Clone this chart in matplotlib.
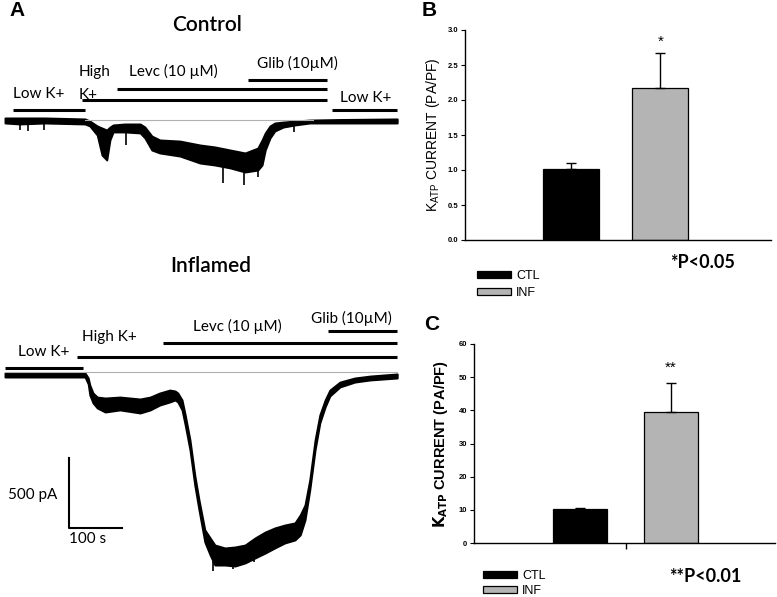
import numpy as np
import matplotlib
matplotlib.use('Agg')
import matplotlib.pyplot as plt

W, H = 777, 597

# ---------------- trace data (time in s, current in pA) ----------------
ctl_t = [0, 28, 75, 151, 160, 174, 183, 192, 198, 204, 226, 255, 264, 277, 292,
         330, 368, 396, 425, 453, 477, 485, 491, 500, 509, 525, 547, 575, 632, 740]
ctl_top = [11, 11, 11, 4, -11, -46, -61, -75, -54, -39, -32, -32, -54, -118, -146,
           -154, -182, -196, -218, -239, -204, -146, -96, -46, -25, -18, -11, -4, 0, 4]
ctl_bot = [-25, -32, -25, -32, -46, -111, -254, -289, -146, -89, -89, -96, -132, -218, -239,
           -261, -311, -325, -346, -375, -361, -325, -218, -132, -82, -54, -39, -25, -25, -25]
ctl_spike_t = [28, 43, 74, 228, 411, 451, 477, 545]
ctl_spike_pa = [-75, -82, -75, -182, -453, -468, -411, -89]

inf_t = [0, 151, 157, 160, 166, 174, 189, 217, 255, 274, 292, 311, 321, 326, 334, 340,
         349, 358, 366, 377, 387, 396, 415, 434, 453, 472, 491, 509, 528, 547, 557, 566,
         575, 585, 594, 604, 613, 632, 660, 689, 740]
inf_top = [-9, -9, -45, -95, -152, -181, -188, -181, -195, -181, -152, -131, -138, -152, -202, -309,
           -488, -738, -916, -1130, -1187, -1238, -1259, -1252, -1238, -1187, -1145, -1116, -1095, -1080, -1023, -952,
           -773, -488, -309, -202, -131, -74, -45, -31, -16]
inf_bot = [-38, -38, -88, -166, -223, -259, -288, -273, -295, -273, -238, -216, -202, -216, -273, -381,
           -559, -809, -987, -1216, -1309, -1381, -1381, -1388, -1366, -1330, -1295, -1259, -1223, -1202, -1166, -1059,
           -845, -559, -366, -252, -173, -109, -74, -59, -45]
inf_spike_t = [392, 430, 470]
inf_spike_pa = [-1420, -1410, -1360]

# solution application periods (s)
ctl_solutions = [('Low K+', 15, 151), ('High K+', 145, 608), ('Levc', 211, 608),
                 ('Glib', 458, 608), ('Low K+', 617, 740)]
inf_solutions = [('Low K+', 0, 147), ('High K+', 136, 740), ('Levc', 298, 740), ('Glib', 609, 740)]

scale_pa = 500
scale_s = 100

# ---------------- bar data ----------------
groups = ['CTL', 'INF']
b_means = [1.01, 2.17]
b_errs = [0.09, 0.50]
c_means = [10.2, 39.4]
c_errs = [0.3, 8.9]
bar_colors = ['black', '#b4b4b4']

PX_PER_S = 0.53
PX_PER_PA = 0.14
T0_PX = 5


def fig_rect(x0, y0, x1, y1):
    return [x0 / W, 1 - y1 / H, (x1 - x0) / W, (y1 - y0) / H]


def ftext(x, y, s, **kw):
    kw.setdefault('va', 'center')
    fig.text(x / W, 1 - y / H, s, **kw)


fig = plt.figure(figsize=(W / 100, H / 100), dpi=100)
trace_font = ['Lato', 'DejaVu Sans']
bar_font = 'Liberation Sans'


def trace_axes(y0, y1, base_px):
    ax = fig.add_axes(fig_rect(0, y0, 400, y1))
    ax.set_xlim(-T0_PX / PX_PER_S, (400 - T0_PX) / PX_PER_S)
    ax.set_ylim(-(y1 - base_px) / PX_PER_PA, (base_px - y0) / PX_PER_PA)
    ax.axis('off')
    return ax


def draw_trace(ax, t, top, bot, st, spa):
    ax.fill_between(t, top, bot, color='black', lw=1.4, edgecolor='black')
    base = np.interp(st, t, bot)
    ax.vlines(st, base, spa, color='black', lw=1.2)


# control trace
ax_c = trace_axes(0, 250, 119.5)
ax_c.plot([151, 581], [0, 0], color='#b0b0b0', lw=0.8)
draw_trace(ax_c, ctl_t, ctl_top, ctl_bot, ctl_spike_t, ctl_spike_pa)
ctl_levels = [68, 139, 218, 282, 68]
for (name, t0, t1), lev in zip(ctl_solutions, ctl_levels):
    ax_c.plot([t0, t1], [lev, lev], color='black', lw=2.2, solid_capstyle='butt')

# inflamed trace
ax_i = trace_axes(250, 597, 371.7)
ax_i.plot([0, 740], [0, 0], color='#b0b0b0', lw=0.8)
draw_trace(ax_i, inf_t, inf_top, inf_bot, inf_spike_t, inf_spike_pa)
inf_levels = [30, 105, 205, 291]
for (name, t0, t1), lev in zip(inf_solutions, inf_levels):
    ax_i.plot([t0, t1], [lev, lev], color='black', lw=2.2, solid_capstyle='butt')

# scale bar
sb_t, sb_pa = 120.8, -1116
ax_i.plot([sb_t, sb_t, sb_t + scale_s], [sb_pa + scale_pa, sb_pa, sb_pa], color='black', lw=1.5)

tk = dict(family=trace_font, fontsize=11)
ftext(9, 10, 'A', fontsize=15, fontweight='bold', family=bar_font)
ftext(207, 25, 'Control', ha='center', family=trace_font, fontsize=15, fontweight='semibold')
ftext(211, 266, 'Inflamed', ha='center', family=trace_font, fontsize=15, fontweight='semibold')
ftext(13, 94, 'Low K+', **tk)
ftext(79, 72, 'High', **tk)
ftext(79, 95, 'K+', **tk)
ftext(129, 71, 'Levc (10 µM)', **tk)
ftext(257, 63, 'Glib (10µM)', **tk)
ftext(340, 98, 'Low K+', **tk)
ftext(18, 352, 'Low K+', **tk)
ftext(82, 337, 'High K+', **tk)
ftext(193, 326, 'Levc (10 µM)', **tk)
ftext(311, 318, 'Glib (10µM)', **tk)
ftext(57, 495, '500 pA', ha='right', **tk)
ftext(69, 539, '100 s', **tk)


# ---------------- bar panels ----------------
def bar_panel(rect, means, errs, ylim, yticks, fmt, xlim, width, star, star_y, mid_tick):
    ax = fig.add_axes(rect)
    x = np.arange(1, len(means) + 1)
    bars = ax.bar(x, means, width, color=bar_colors, edgecolor='black', linewidth=0.9)
    ax.errorbar(x, means, yerr=[np.zeros(len(errs)), errs], fmt='none', ecolor='black',
                elinewidth=1, capsize=3.5, capthick=1)
    ax.set_xlim(*xlim)
    ax.set_ylim(*ylim)
    ax.set_yticks(yticks)
    ax.set_yticklabels([fmt.format(v) for v in yticks], fontsize=5.5, fontweight='bold',
                       family=bar_font)
    if mid_tick:
        ax.set_xticks([1.5])
        ax.set_xticklabels([''])
        ax.tick_params(axis='x', length=4, width=1)
    else:
        ax.set_xticks([])
    ax.tick_params(axis='y', length=3, width=0.8, pad=2)
    for s in ['top', 'right']:
        ax.spines[s].set_visible(False)
    for s in ['left', 'bottom']:
        ax.spines[s].set_linewidth(1)
    ax.text(2, star_y, star, ha='center', va='center', fontsize=11, family=bar_font)
    return ax, bars


ax_b, bars_b = bar_panel(fig_rect(465, 30, 771, 240), b_means, b_errs, (0, 3.0),
                         [0, 0.5, 1.0, 1.5, 2.0, 2.5, 3.0], '{:.1f}', (-0.184, 3.235), 0.626,
                         '*', 2.83, False)
ax_b.set_ylabel(r'$\mathregular{K_{ATP}}$ CURRENT (PA/PF)', fontsize=10, family=bar_font, labelpad=4)

ax_cc, bars_c = bar_panel(fig_rect(474, 344, 775, 543), c_means, c_errs, (0, 60),
                          [0, 10, 20, 30, 40, 50, 60], '{:d}', (-0.165, 3.143), 0.593,
                          '**', 52.7, True)
ax_cc.set_ylabel(r'$\mathbf{K_{ATP}}$ CURRENT (PA/PF)', fontsize=10.5, fontweight='bold',
                 family=bar_font, labelpad=6)

ftext(422, 11, 'B', fontsize=15, fontweight='bold', family=bar_font)
ftext(424, 325, 'C', fontsize=15, fontweight='bold', family=bar_font)

leg_kw = dict(loc='upper left', frameon=False, prop={'family': bar_font, 'size': 9},
              handlelength=2.7, handleheight=0.5, handletextpad=0.4, borderpad=0)
fig.legend(bars_b, groups, bbox_to_anchor=(471 / W, 1 - 264 / H), labelspacing=0.36, **leg_kw)
fig.legend(bars_c, groups, bbox_to_anchor=(477 / W, 1 - 564 / H), labelspacing=0.2, **leg_kw)

ftext(670, 262, '*P<0.05', fontsize=13, fontweight='bold', family=trace_font)
ftext(669, 577, '**P<0.01', fontsize=13, fontweight='bold', family=trace_font)

fig.savefig('out.png', dpi=100)
